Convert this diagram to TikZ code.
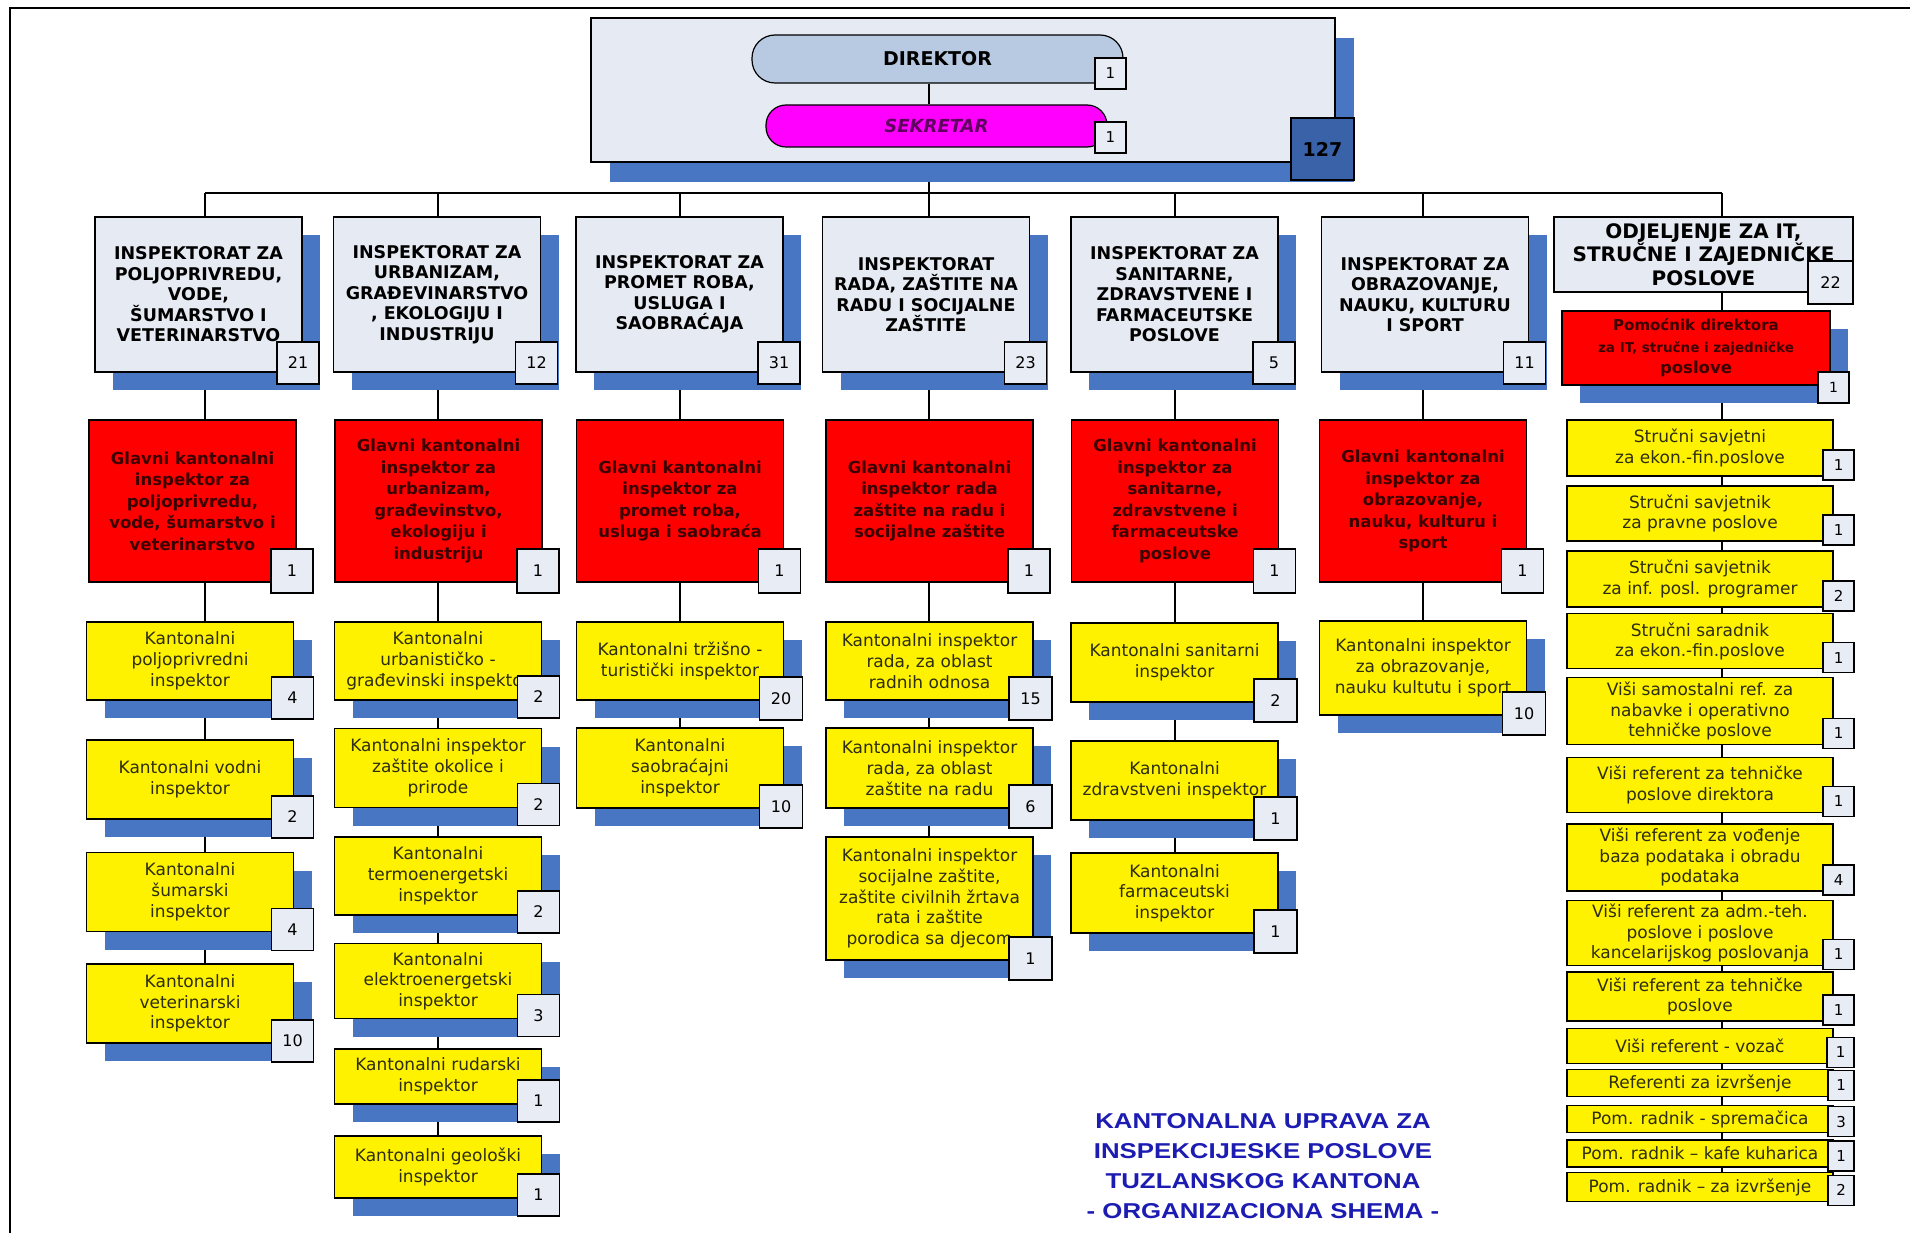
\documentclass[tikz,border=0pt]{standalone}
\usepackage{fontspec}
\setmainfont{DejaVu Sans}
\newfontfamily\titlefont{Liberation Sans}[FakeStretch=1.2]
\usetikzlibrary{shadows,backgrounds}

\definecolor{hdrfill}{RGB}{230,234,243}
\definecolor{shadowblue}{RGB}{72,118,194}
\definecolor{darkblue}{RGB}{58,98,168}
\definecolor{dirfill}{RGB}{184,202,226}
\definecolor{sekfill}{RGB}{255,0,255}
\definecolor{sektext}{RGB}{96,0,96}
\definecolor{chieftext}{RGB}{60,0,0}
\definecolor{insptext}{RGB}{45,45,15}
\definecolor{cntfill}{RGB}{232,236,244}
\definecolor{titleblue}{RGB}{28,28,178}

\newcommand\setfs[2]{\fontsize{#1}{#2}\selectfont}

\begin{document}
\begin{tikzpicture}[x=1pt, y=-1pt,
	conn/.style={line width=2.2pt},
	box/.style={draw, line width=1.2pt, align=center, inner sep=0pt},
	shd/.style={drop shadow={shadow xshift=18pt, shadow yshift=-18pt, fill=shadowblue, opacity=1}},
	hdr/.style={box, fill=hdrfill, font=\setfs{17.5}{20.5}\bfseries},
	chief/.style={box, fill=red, text=chieftext, font=\setfs{16.5}{21.5}\bfseries},
	insp/.style={box, shd, fill=yellow, text=insptext, minimum width=207pt, font=\setfs{17}{20.7}},
	staff/.style={box, fill=yellow, text=insptext, minimum width=266pt, font=\setfs{17}{20.5}},
	cnt/.style={draw, line width=1.2pt, fill=cntfill, inner sep=0pt, anchor=south east, font=\setfs{16}{16}}]

\useasboundingbox (0,0) rectangle (1910,1233);
\draw[line width=2.5pt] (10,1233) -- (10,8) -- (1910,8);

% direktor
\node[box, fill=hdrfill, minimum width=744pt, minimum height=144pt,
	drop shadow={shadow xshift=19pt, shadow yshift=-20pt, fill=shadowblue, opacity=1}] (uprava) at (963,90) {};
\node[cnt, fill=darkblue, minimum width=63pt, minimum height=62pt, font=\setfs{19}{19}\bfseries] (uprava-n) at ([shift={(19,18)}]uprava.south east) {127};
\node[box, fill=dirfill, rounded corners=23pt, minimum width=371pt, minimum height=48pt, font=\setfs{19}{19}\bfseries] (direktor) at (937.5,59) {DIREKTOR};
\node[cnt, minimum size=31pt, font=\setfs{15}{15}] (direktor-n) at ([shift={(3,6)}]direktor.south east) {1};
\node[box, fill=sekfill, text=sektext, rounded corners=20pt, minimum width=341pt, minimum height=42pt, font=\setfs{18}{18}\bfseries\itshape] (sekretar) at (936.5,126) {SEKRETAR};
\node[cnt, minimum size=31pt, font=\setfs{15}{15}] (sekretar-n) at ([shift={(19,6)}]sekretar.south east) {1};

% inspektorati
\foreach \c/\cx/\txt/\nr in {
1/198.5/{INSPEKTORAT ZA\\POLJOPRIVREDU,\\VODE,\\ŠUMARSTVO I\\VETERINARSTVO}/21%
,2/437/{INSPEKTORAT ZA\\URBANIZAM,\\GRAĐEVINARSTVO\\, EKOLOGIJU I\\INDUSTRIJU}/12%
,3/679.5/{INSPEKTORAT ZA\\PROMET ROBA,\\USLUGA I\\SAOBRAĆAJA}/31%
,4/926/{INSPEKTORAT\\RADA, ZAŠTITE NA\\RADU I SOCIJALNE\\ZAŠTITE}/23%
,5/1174.5/{INSPEKTORAT ZA\\SANITARNE,\\ZDRAVSTVENE I\\FARMACEUTSKE\\POSLOVE}/5%
,6/1425/{INSPEKTORAT ZA\\OBRAZOVANJE,\\NAUKU, KULTURU\\I SPORT}/11%
}{
	\node[hdr, shd, minimum width=207pt, minimum height=155pt] (h\c) at (\cx,294.5) {\txt};
	\node[cnt, minimum size=42pt] (h\c-n) at ([shift={(17,12)}]h\c.south east) {\nr};
}
\node[hdr, minimum width=299pt, minimum height=75pt, font=\setfs{20}{23.5}\bfseries] (h7) at (1703.5,254.5) {ODJELJENJE ZA IT,\\STRUČNE I ZAJEDNIČKE\\POSLOVE};
\node[cnt, minimum width=45pt, minimum height=43pt] (h7-n) at ([shift={(0,12)}]h7.south east) {22};

% glavni inspektori
\foreach \c/\cx/\txt in {
1/192.5/{Glavni kantonalni\\inspektor za\\poljoprivredu,\\vode, šumarstvo i\\veterinarstvo}%
,2/438.5/{Glavni kantonalni\\inspektor za\\urbanizam,\\građevinstvo,\\ekologiju i\\industriju}%
,3/680/{Glavni kantonalni\\inspektor za\\promet roba,\\usluga i saobraća}%
,4/929.5/{Glavni kantonalni\\inspektor rada\\zaštite na radu i\\socijalne zaštite}%
,5/1175/{Glavni kantonalni\\inspektor za\\sanitarne,\\zdravstvene i\\farmaceutske\\poslove}%
,6/1423/{Glavni kantonalni\\inspektor za\\obrazovanje,\\nauku, kulturu i\\sport}%
}{
	\node[chief, minimum width=207pt, minimum height=162pt] (g\c) at (\cx,501) {\txt};
	\node[cnt, minimum width=42pt, minimum height=44pt] (g\c-n) at ([shift={(17,11)}]g\c.south east) {1};
}
\node[chief, shd, minimum width=268pt, minimum height=74pt] (g7) at (1696,348)
	{\setfs{15}{21}Pomoćnik direktora\\\setfs{13.5}{21}za IT, stručne i zajedničke\\poslove};
\node[cnt, minimum size=31pt, font=\setfs{14}{14}] (g7-n) at ([shift={(19,18)}]g7.south east) {1};

% kantonalni inspektori
\foreach \r/\cy/\hh/\txt/\nr in {
1/661/78/{Kantonalni\\poljoprivredni\\inspektor}/4%
,2/779.5/79/{Kantonalni vodni\\inspektor}/2%
,3/892/79/{Kantonalni\\šumarski\\inspektor}/4%
,4/1003.5/79/{Kantonalni\\veterinarski\\inspektor}/10%
}{
	\node[insp, minimum height=\hh pt] (y1\r) at (190,\cy) {\txt};
	\node[cnt, minimum size=42pt] (y1\r-n) at ([shift={(20,19)}]y1\r.south east) {\nr};
}
\foreach \r/\cy/\hh/\txt/\nr in {
1/661/78/{Kantonalni\\urbanističko -\\građevinski inspektor}/2%
,2/768/79/{Kantonalni inspektor\\zaštite okolice i\\prirode}/2%
,3/876/78/{Kantonalni\\termoenergetski\\inspektor}/2%
,4/981/75/{Kantonalni\\elektroenergetski\\inspektor}/3%
,5/1076.5/55/{Kantonalni rudarski\\inspektor}/1%
,6/1167/62/{Kantonalni geološki\\inspektor}/1%
}{
	\node[insp, minimum height=\hh pt] (y2\r) at (438,\cy) {\txt};
	\node[cnt, minimum size=42pt] (y2\r-n) at ([shift={(18,18)}]y2\r.south east) {\nr};
}
\foreach \c/\r/\cx/\cy/\hh/\txt/\nr in {
3/1/680/661/78/{Kantonalni tržišno -\\turistički inspektor}/20%
,3/2/680/768/80/{Kantonalni\\saobraćajni\\inspektor}/10%
,4/1/929.5/661/78/{Kantonalni inspektor\\rada, za oblast\\radnih odnosa}/15%
,4/2/929.5/768/80/{Kantonalni inspektor\\rada, za oblast\\zaštite na radu}/6%
,4/3/929.5/898.5/123/{Kantonalni inspektor\\socijalne zaštite,\\zaštite civilnih žrtava\\rata i zaštite\\porodica sa djecom}/1%
,5/1/1174.5/662.5/79/{Kantonalni sanitarni\\inspektor}/2%
,5/2/1174.5/780.5/79/{Kantonalni\\zdravstveni inspektor}/1%
,5/3/1174.5/893/80/{Kantonalni\\farmaceutski\\inspektor}/1%
,6/1/1423/668/94/{Kantonalni inspektor\\za obrazovanje,\\nauku kultutu i sport}/10%
}{
	\node[insp, minimum height=\hh pt] (y\c\r) at (\cx,\cy) {\txt};
	\node[cnt, minimum size=43pt] (y\c\r-n) at ([shift={(19,20)}]y\c\r.south east) {\nr};
}

% odjeljenje
\foreach \r/\cy/\hh/\txt/\nr/\cw in {
1/448/56/{Stručni savjetni\\za ekon.-fin.poslove}/1/31%
,2/513.5/55/{Stručni savjetnik\\za pravne poslove}/1/31%
,3/579/56/{Stručni savjetnik\\za inf. posl. programer}/2/31%
,4/641.3/55/{Stručni saradnik\\za ekon.-fin.poslove}/1/31%
,5/711/67/{Viši samostalni ref. za\\nabavke i operativno\\tehničke poslove}/1/31%
,6/785/55/{Viši referent za tehničke\\poslove direktora}/1/31%
,7/857.4/67/{Viši referent za vođenje\\baza podataka i obradu\\podataka}/4/31%
,8/933/65/{Viši referent za adm.-teh.\\poslove i  poslove\\kancelarijskog poslovanja}/1/31%
,9/996.5/49/{Viši referent za tehničke\\poslove}/1/31%
,10/1046/35/{Viši referent - vozač}/1/27%
,11/1083/27/{Referenti za izvršenje}/1/26%
,12/1119/27.5/{Pom. radnik - spremačica}/3/26%
,13/1153.5/27/{Pom. radnik – kafe kuharica}/1/26%
,14/1187/28.5/{Pom. radnik – za izvršenje}/2/26%
}{
	\node[staff, minimum height=\hh pt] (s\r) at (1700,\cy) {\txt};
	\node[cnt, minimum width=\cw pt, minimum height=30pt, font=\setfs{15}{15}] (s\r-n) at ([shift={(21,4)}]s\r.south east) {\nr};
}

\node[font=\titlefont\bfseries\setfs{21.5}{30}, text=titleblue, align=center] (naslov) at (1263,1166)
	{KANTONALNA UPRAVA ZA\\INSPEKCIJESKE POSLOVE\\TUZLANSKOG KANTONA\\- ORGANIZACIONA SHEMA -};

\begin{scope}[on background layer]
\foreach \c/\x in {1/205,2/438,3/680,4/929,5/1175,6/1423,7/1722}{
	\coordinate (bus\c) at (\x,193);
}
\draw[conn] (bus1) -- (bus7);
\draw[conn] (bus4 |- sekretar.south) -- (bus4);
\foreach \c/\last in {1/y14,2/y26,3/y32,4/y43,5/y53,6/y61,7/s14}{
	\draw[conn] (bus\c) -- (bus\c |- \last.north);
}
\end{scope}
\draw[conn] (bus4 |- direktor.south) -- (bus4 |- sekretar.north);

\end{tikzpicture}
\end{document}
